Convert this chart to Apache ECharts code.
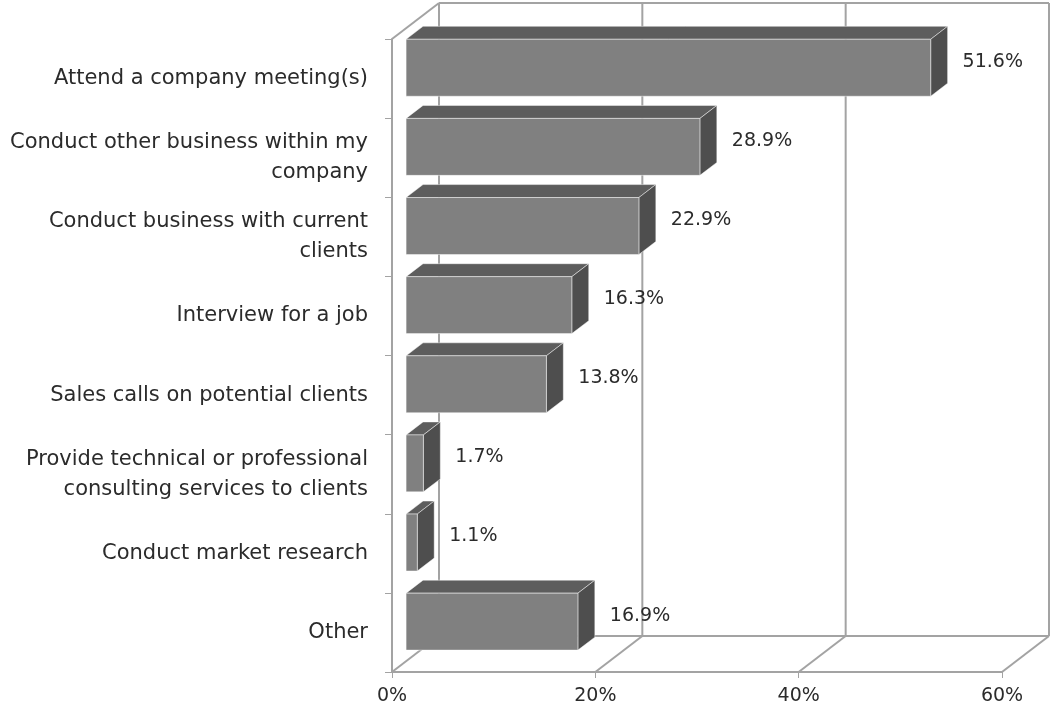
<!DOCTYPE html>
<html>
<head>
<meta charset="utf-8">
<script src="https://cdn.jsdelivr.net/npm/echarts@6/dist/echarts.min.js"></script>
<style>
  html, body { margin: 0; padding: 0; background: #fff; }
  #chart { width: 1052px; height: 711px; }
</style>
</head>
<body>
<div id="chart"></div>
<script>
// Reasons for business travel (share of respondents)
const categories = [
  'Attend a company meeting(s)',
  'Conduct other business within my\ncompany',
  'Conduct business with current\nclients',
  'Interview for a job',
  'Sales calls on potential clients',
  'Provide technical or professional\nconsulting services to clients',
  'Conduct market research',
  'Other'
];
const shares = [51.6, 28.9, 22.9, 16.3, 13.8, 1.7, 1.1, 16.9];
const xTicks = [0, 20, 40, 60];

const FONT = 'DejaVu Sans';
const TEXT = '#2b2b2b';
const WALL = '#a3a3a3';

// depth vector of the 3-D box (front plane -> back wall), pixels
const DEPTH = [47, -36];
// bars sit between these fractions of the depth
const BAR_FRONT = 0.30, BAR_BACK = 0.66;
const BAR_FILL = 0.72;

function line(x1, y1, x2, y2) {
  return {
    type: 'line',
    shape: { x1, y1, x2, y2 },
    style: { stroke: WALL, lineWidth: 2 }
  };
}

// floor, back wall and side wall of the 3-D frame
function renderFrame(params, api) {
  const cs = params.coordSys;
  const top = cs.y, bottom = cs.y + cs.height;
  const x = api.coord([api.value(0), 0])[0];
  const [dx, dy] = DEPTH;
  const children = [
    line(x, bottom, x + dx, bottom + dy),
    line(x + dx, bottom + dy, x + dx, top + dy)
  ];
  if (params.dataIndex === 0) {
    const left = cs.x, right = cs.x + cs.width;
    children.push(
      line(left, top, left + dx, top + dy),
      line(left + dx, top + dy, right + dx, top + dy),
      line(left + dx, bottom + dy, right + dx, bottom + dy)
    );
  }
  return { type: 'group', children };
}

// one 3-D bar: top face, end face, front face and its value label
function renderBar(params, api) {
  const idx = api.value(1);
  const val = api.value(0);
  const p0 = api.coord([0, idx]);
  const p1 = api.coord([val, idx]);
  const band = api.size([0, 1])[1];
  const h = band * BAR_FILL;
  const fx = DEPTH[0] * BAR_FRONT, fy = DEPTH[1] * BAR_FRONT;
  const bx = DEPTH[0] * (BAR_BACK - BAR_FRONT), by = DEPTH[1] * (BAR_BACK - BAR_FRONT);
  const xl = p0[0] + fx, xr = p1[0] + fx;
  const yt = p0[1] + fy - h / 2, yb = p0[1] + fy + h / 2;
  const edge = 'rgba(255,255,255,0.45)';
  return {
    type: 'group',
    children: [
      {
        type: 'polygon',
        shape: { points: [[xl, yt], [xr, yt], [xr + bx, yt + by], [xl + bx, yt + by]] },
        style: { fill: '#5d5d5d', stroke: edge, lineWidth: 1 }
      },
      {
        type: 'polygon',
        shape: { points: [[xr, yt], [xr + bx, yt + by], [xr + bx, yb + by], [xr, yb]] },
        style: { fill: '#4e4e4e', stroke: edge, lineWidth: 1 }
      },
      {
        type: 'rect',
        shape: { x: xl, y: yt, width: xr - xl, height: h },
        style: { fill: '#808080', stroke: edge, lineWidth: 1 }
      },
      {
        type: 'text',
        x: xr + bx + 15,
        y: p0[1] + fy - 6,
        style: {
          text: val.toFixed(1) + '%',
          fill: TEXT,
          font: '19px "' + FONT + '"',
          verticalAlign: 'middle',
          align: 'left'
        }
      }
    ]
  };
}

const chart = echarts.init(document.getElementById('chart'), null, { renderer: 'canvas' });
chart.setOption({
  backgroundColor: '#ffffff',
  animation: false,
  grid: { left: 392, top: 39, width: 610, height: 633, containLabel: false },
  xAxis: {
    type: 'value',
    min: 0,
    max: 60,
    interval: 20,
    axisLine: { show: true, lineStyle: { color: WALL, width: 2 } },
    axisTick: { show: true, length: 6, lineStyle: { color: WALL, width: 1 } },
    splitLine: { show: false },
    axisLabel: {
      formatter: '{value}%',
      color: TEXT,
      fontFamily: FONT,
      fontSize: 19,
      margin: 15
    }
  },
  yAxis: {
    type: 'category',
    inverse: true,
    data: categories,
    axisLine: { show: true, lineStyle: { color: WALL, width: 2 } },
    axisTick: { show: true, length: 7, lineStyle: { color: WALL, width: 1 } },
    splitLine: { show: false },
    axisLabel: {
      color: TEXT,
      fontFamily: FONT,
      fontSize: 21,
      lineHeight: 30,
      margin: 24,
      align: 'right'
    }
  },
  series: [
    {
      type: 'custom',
      name: 'frame',
      renderItem: renderFrame,
      data: xTicks.map(t => [t, 0]),
      encode: { x: 0, y: 1 },
      silent: true,
      z: 1
    },
    {
      type: 'custom',
      name: 'share',
      renderItem: renderBar,
      data: shares.map((v, i) => [v, i]),
      encode: { x: 0, y: 1 },
      z: 2
    }
  ]
});
</script>
</body>
</html>
